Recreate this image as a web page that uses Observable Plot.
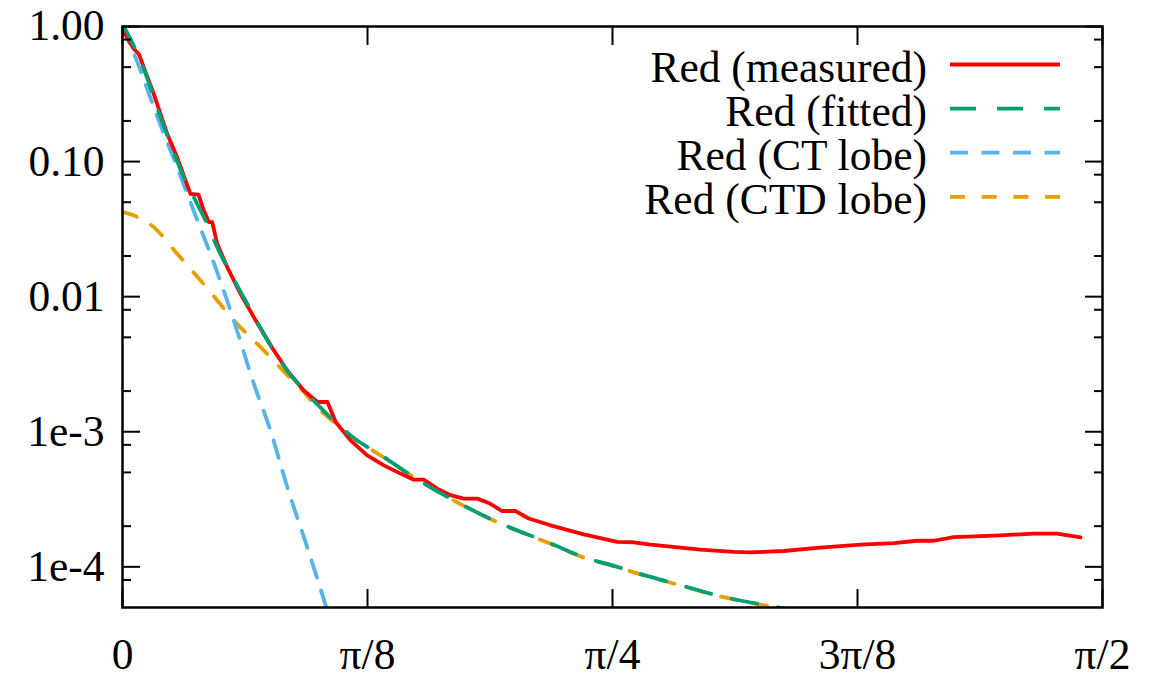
<!DOCTYPE html>
<html><head><meta charset="utf-8">
<script src="https://cdn.jsdelivr.net/npm/d3@7"></script>
<script src="https://cdn.jsdelivr.net/npm/@observablehq/plot@0.6"></script>
<style>
html,body{margin:0;padding:0;background:#fff;}
#chart{width:1154px;height:677px;}
</style></head><body><div id="chart"></div>
<script>
// Angles in degrees (0..90 = 0..π/2), values on a log axis
const measuredAngle = [0, 1.04, 1.50, 1.96, 2.87, 4.11, 5.02, 6.24, 6.98, 7.47, 7.93, 8.24, 8.70, 9.62, 10.84, 12.06, 13.90, 15.13, 16.65, 17.90, 18.82, 19.58, 20.94, 22.47, 24.0, 25.53, 26.75, 27.67, 28.90, 30.12, 31.34, 32.57, 33.64, 34.87, 36.09, 37.31, 39.31, 42.36, 45.43, 46.96, 48.49, 53.08, 56.14, 57.67, 60.73, 63.80, 67.78, 70.84, 72.98, 74.51, 76.35, 80.63, 83.69, 85.84, 87.98];
const measuredValue = [0.95, 0.682, 0.626, 0.498, 0.317, 0.160, 0.1076, 0.0577, 0.0570, 0.0434, 0.0356, 0.0356, 0.0246, 0.01652, 0.0105, 0.00705, 0.00400, 0.00284, 0.00202, 0.00166, 0.00166, 0.00118, 8.64e-4, 6.69e-4, 5.64e-4, 4.90e-4, 4.42e-4, 4.42e-4, 3.79e-4, 3.39e-4, 3.20e-4, 3.20e-4, 2.97e-4, 2.59e-4, 2.59e-4, 2.28e-4, 2.03e-4, 1.74e-4, 1.53e-4, 1.52e-4, 1.46e-4, 1.34e-4, 1.29e-4, 1.28e-4, 1.31e-4, 1.38e-4, 1.46e-4, 1.50e-4, 1.56e-4, 1.56e-4, 1.66e-4, 1.71e-4, 1.76e-4, 1.76e-4, 1.65e-4];

const fittedAngle = [0, 1.04, 1.96, 3.49, 4.41, 5.63, 6.86, 7.78, 8.70, 9.62, 11.46, 13.59, 15.13, 16.96, 19.41, 20.94, 24.0, 26.75, 30.12, 34.41, 39.31, 42.36, 45.43, 46.96, 50.94, 55.22, 59.51, 60.8];
const fittedValue = [1.04, 0.72, 0.485, 0.213, 0.135, 0.0766, 0.0487, 0.0346, 0.0232, 0.0165, 0.00887, 0.00436, 0.00284, 0.00191, 0.00121, 9.40e-4, 6.50e-4, 4.62e-4, 3.20e-4, 2.15e-4, 1.49e-4, 1.18e-4, 1.0e-4, 9.16e-5, 7.43e-5, 5.98e-5, 5.12e-5, 4.9e-5];

const ctAngle = [0, 1.19, 3.33, 5.02, 6.70, 8.54, 10.22, 12.06, 13.59, 15.13, 16.96, 18.80];
const ctValue = [1.0, 0.591, 0.201, 0.0908, 0.0400, 0.0165, 0.00667, 0.00227, 0.00102, 3.90e-4, 1.40e-4, 4.77e-5];

const ctdAngle = [0, 1.04, 2.87, 5.02, 7.16, 8.70, 10.22, 12.37, 14.81, 16.96, 17.57, 19.41, 20.94, 24.0, 26.75, 30.12, 34.41, 39.31, 42.36, 45.43, 46.96, 50.94, 55.22, 59.51, 60.8];
const ctdValue = [0.0422, 0.0399, 0.0327, 0.0208, 0.0132, 0.00937, 0.00667, 0.00449, 0.00280, 0.00185, 0.00161, 0.00118, 9.30e-4, 6.45e-4, 4.60e-4, 3.19e-4, 2.14e-4, 1.48e-4, 1.17e-4, 9.95e-5, 9.1e-5, 7.4e-5, 5.96e-5, 5.1e-5, 4.9e-5];

const xTickValues = [0, 22.5, 45, 67.5, 90];
const xTickLabels = ["0", "π/8", "π/4", "3π/8", "π/2"];
const yMajorValues = [1, 0.1, 0.01, 0.001, 0.0001];
const yMajorLabels = ["1.00", "0.10", "0.01", "1e-3", "1e-4"];
const yMinorValues = [0.8, 0.5, 0.2, 0.08, 0.05, 0.02, 0.008, 0.005, 0.002, 0.0008, 0.0005, 0.0002, 0.00008];

const seriesLabels = ["Red (measured)", "Red (fitted)", "Red (CT lobe)", "Red (CTD lobe)"];
const seriesColors = ["#ff0000", "#009e73", "#56b4e9", "#e69f00"];
const seriesDash = [null, "26,21", "18,13.5", "15,16.7"];

const toRows = (a, v) => a.map((x, i) => ({angle: x, value: v[i]}));
const measured = toRows(measuredAngle, measuredValue);
const fitted = toRows(fittedAngle, fittedValue);
const ct = toRows(ctAngle, ctValue);
const ctd = toRows(ctdAngle, ctdValue);

const xLab = new Map(xTickValues.map((v, i) => [v, xTickLabels[i]]));
const yLab = new Map(yMajorValues.map((v, i) => [v, yMajorLabels[i]]));
const blank = () => "";
const LW = 3.8;

const plot = Plot.plot({
  width: 1154, height: 677,
  marginLeft: 122, marginRight: 52, marginTop: 26, marginBottom: 70,
  style: {fontFamily: "'Liberation Serif','Times New Roman',serif", fontSize: "43.5px", background: "#fff", color: "#000", overflow: "visible"},
  x: {type: "linear", domain: [0, 90]},
  y: {type: "log", domain: [5e-5, 1]},
  marks: [
    Plot.line(ctd, {x: "angle", y: "value", stroke: seriesColors[3], strokeWidth: LW, strokeDasharray: seriesDash[3], curve: "monotone-x", clip: true}),
    Plot.line(ct, {x: "angle", y: "value", stroke: seriesColors[2], strokeWidth: LW, strokeDasharray: seriesDash[2], curve: "monotone-x", clip: true}),
    Plot.line(measured, {x: "angle", y: "value", stroke: seriesColors[0], strokeWidth: LW, clip: true}),
    Plot.line(fitted, {x: "angle", y: "value", stroke: seriesColors[1], strokeWidth: LW, strokeDasharray: seriesDash[1], curve: "monotone-x", clip: true}),
    Plot.axisY(yMinorValues, {anchor: "left", tickSize: -9, tickFormat: blank, strokeWidth: 2, label: null}),
    Plot.axisY(yMinorValues, {anchor: "right", tickSize: -9, tickFormat: blank, strokeWidth: 2, label: null}),
    Plot.axisY(yMajorValues, {anchor: "left", tickSize: -18, tickPadding: 36, tickFormat: d => yLab.get(d), strokeWidth: 2, label: null}),
    Plot.axisY(yMajorValues, {anchor: "right", tickSize: -18, tickFormat: blank, strokeWidth: 2, label: null}),
    Plot.axisX(xTickValues, {anchor: "bottom", tickSize: -18, tickPadding: 49, tickFormat: d => xLab.get(d), strokeWidth: 2, label: null}),
    Plot.axisX(xTickValues, {anchor: "top", tickSize: -18, tickFormat: blank, strokeWidth: 2, label: null}),
    Plot.frame({stroke: "#000", strokeWidth: 2.5})
  ]
});

// legend (top-right, inside the frame)
const g = d3.select(plot).append("g").attr("font-size", 43.5);
seriesLabels.forEach((lab, i) => {
  const y = 64.5 + i * 44.1;
  g.append("text").attr("x", 927).attr("y", y + 17).attr("text-anchor", "end").attr("fill", "#000").text(lab);
  const ln = g.append("line").attr("x1", 950).attr("x2", 1060).attr("y1", y).attr("y2", y)
    .attr("stroke", seriesColors[i]).attr("stroke-width", LW);
  if (seriesDash[i]) ln.attr("stroke-dasharray", seriesDash[i]);
});

document.getElementById("chart").appendChild(plot);
</script></body></html>
